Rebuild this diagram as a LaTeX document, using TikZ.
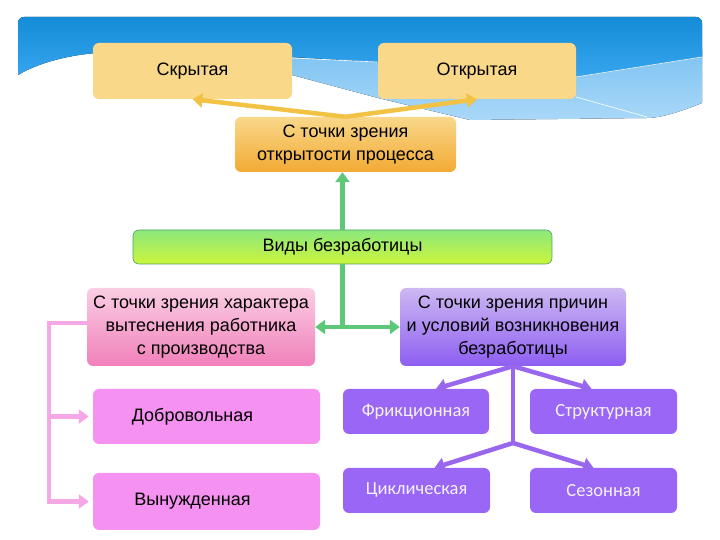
\documentclass[tikz,border=0pt]{standalone}
\usepackage{fontspec}
\setmainfont{Liberation Sans}
\newfontfamily\subfont{Carlito}
\usetikzlibrary{arrows.meta,calc}
\definecolor{bandblue}{RGB}{20,140,215}
\definecolor{bandlow}{RGB}{55,165,238}
\definecolor{skyblue}{RGB}{125,195,242}
\definecolor{skylow}{RGB}{170,216,248}
\definecolor{sand}{RGB}{249,216,138}
\definecolor{amber}{RGB}{242,170,52}
\definecolor{amberline}{RGB}{242,194,68}
\definecolor{leaf}{RGB}{140,232,124}
\definecolor{lime}{RGB}{204,245,60}
\definecolor{grass}{RGB}{92,200,120}
\definecolor{blush}{RGB}{250,206,228}
\definecolor{rose}{RGB}{241,128,186}
\definecolor{orchid}{RGB}{245,145,240}
\definecolor{orchidline}{RGB}{245,168,230}
\definecolor{lilac}{RGB}{205,184,242}
\definecolor{violet}{RGB}{142,94,242}
\definecolor{violetbox}{RGB}{153,102,245}
\definecolor{violetline}{RGB}{153,102,238}

\begin{document}
\begin{tikzpicture}[x=1pt, y=1pt,
    box/.style={rectangle, rounded corners=6pt, align=center, inner sep=2pt,
                font=\fontsize{18}{23}\selectfont},
    topbox/.style={box, fill=sand},
    openbox/.style={box, top color=sand, bottom color=amber},
    kindbox/.style={box, top color=leaf, bottom color=lime, draw=grass!80!black, line width=0.6pt},
    pinkhead/.style={box, top color=blush, bottom color=rose},
    pinkbox/.style={box, fill=orchid},
    purphead/.style={box, top color=lilac, bottom color=violet},
    purpbox/.style={box, fill=violetbox, text=white!92!violet,
                font=\subfont\fontsize{18.5}{20}\selectfont},
    oarrow/.style={-{Triangle[length=10pt, width=14pt]}, line width=4.5pt, amberline},
    garrow/.style={-{Triangle[length=10pt, width=14pt]}, line width=4.5pt, grass},
    parrow/.style={-{Triangle[length=10pt, width=14pt]}, line width=4.5pt, orchidline},
    varrow/.style={-{Triangle[length=10pt, width=14pt]}, line width=4.5pt, violetline}
]
    \useasboundingbox (0,0) rectangle (720,540);

    % header band
    \fill[top color=skyblue, bottom color=skylow]
        (290,483) -- (702,490) -- (702,437) .. controls (680,428) and (660,422) .. (647,422)
        -- (470,420) -- (378,442) -- (292,465) -- cycle;
    \fill[top color=bandblue, bottom color=bandlow]
        (18,465) .. controls (40,478) and (70,485) .. (97,487)
        -- (292,483) -- (377,478) -- (576,463) -- (702,483)
        -- (702,517) arc[start angle=0, end angle=90, radius=6]
        -- (24,523) arc[start angle=90, end angle=180, radius=6] -- cycle;
    \draw[white, line width=0.6pt] (292,482) -- (377,478);
    \draw[white, line width=0.6pt] (576,463) -- (702,483);
    \draw[white, line width=0.6pt] (576,443) -- (647,423);

    % boxes
    \node[topbox, minimum width=199, minimum height=56] (hid) at (192.5,469) {Скрытая};
    \node[topbox, minimum width=198, minimum height=56] (opn) at (477,469) {Открытая};
    \node[openbox, minimum width=221, minimum height=55] (openness) at (345.5,395.5)
        {С точки зрения\\открытости процесса};
    \node[kindbox, minimum width=419, minimum height=34] (kinds) at (342.5,293) {Виды безработицы};

    \node[pinkhead, minimum width=228, minimum height=78] (cause) at (201,213)
        {С точки зрения характера\\вытеснения работника\\с производства};
    \node[purphead, minimum width=226, minimum height=78] (reason) at (513,213)
        {С точки зрения причин\\и условий возникновения\\безработицы};

    \node[pinkbox, minimum width=227, minimum height=55] (vol) at (206.5,123.5) {\hspace*{-28pt}Добровольная};
    \node[pinkbox, minimum width=227, minimum height=57] (forc) at (206.5,38.5) {\hspace*{-28pt}Вынужденная};

    \node[purpbox, minimum width=146, minimum height=45] (fric) at (416,128.5) {Фрикционная};
    \node[purpbox, minimum width=147, minimum height=45] (struc) at (603.5,128.5) {Структурная};
    \node[purpbox, minimum width=147, minimum height=45] (cyc) at (416.5,49.5) {Циклическая};
    \node[purpbox, minimum width=147, minimum height=45] (seas) at (603.5,49.5) {Сезонная};

    % connectors
    \draw[oarrow] (openness.north) -- (hid.south);
    \draw[oarrow] (openness.north) -- (opn.south);

    \coordinate (gsplit) at (kinds.south |- cause.east);
    \draw[garrow] (kinds.north) -- (kinds.north |- openness.south);
    \draw[line width=4.5pt, grass] (kinds.south) -- (gsplit);
    \draw[garrow] (gsplit) -- (cause.east);
    \draw[garrow] (gsplit) -- (reason.west);

    \coordinate (pleft) at (49,217);
    \draw[parrow, shorten >=4pt] (cause.west |- pleft) -- (pleft) |- (forc.west);
    \draw[parrow, shorten >=4pt] (pleft |- vol.west) -- (vol.west);

    \coordinate (vsplit) at (reason.south |- 0,97);
    \draw[line width=4.5pt, violetline] (reason.south) -- (vsplit);
    \draw[varrow] (reason.south) -- ($(fric.north)+(20,0)$);
    \draw[varrow] (reason.south) -- ($(struc.north)+(-12,0)$);
    \draw[varrow] (vsplit) -- ($(cyc.north)+(18,0)$);
    \draw[varrow] (vsplit) -- ($(seas.north)+(-10,0)$);
\end{tikzpicture}
\end{document}
